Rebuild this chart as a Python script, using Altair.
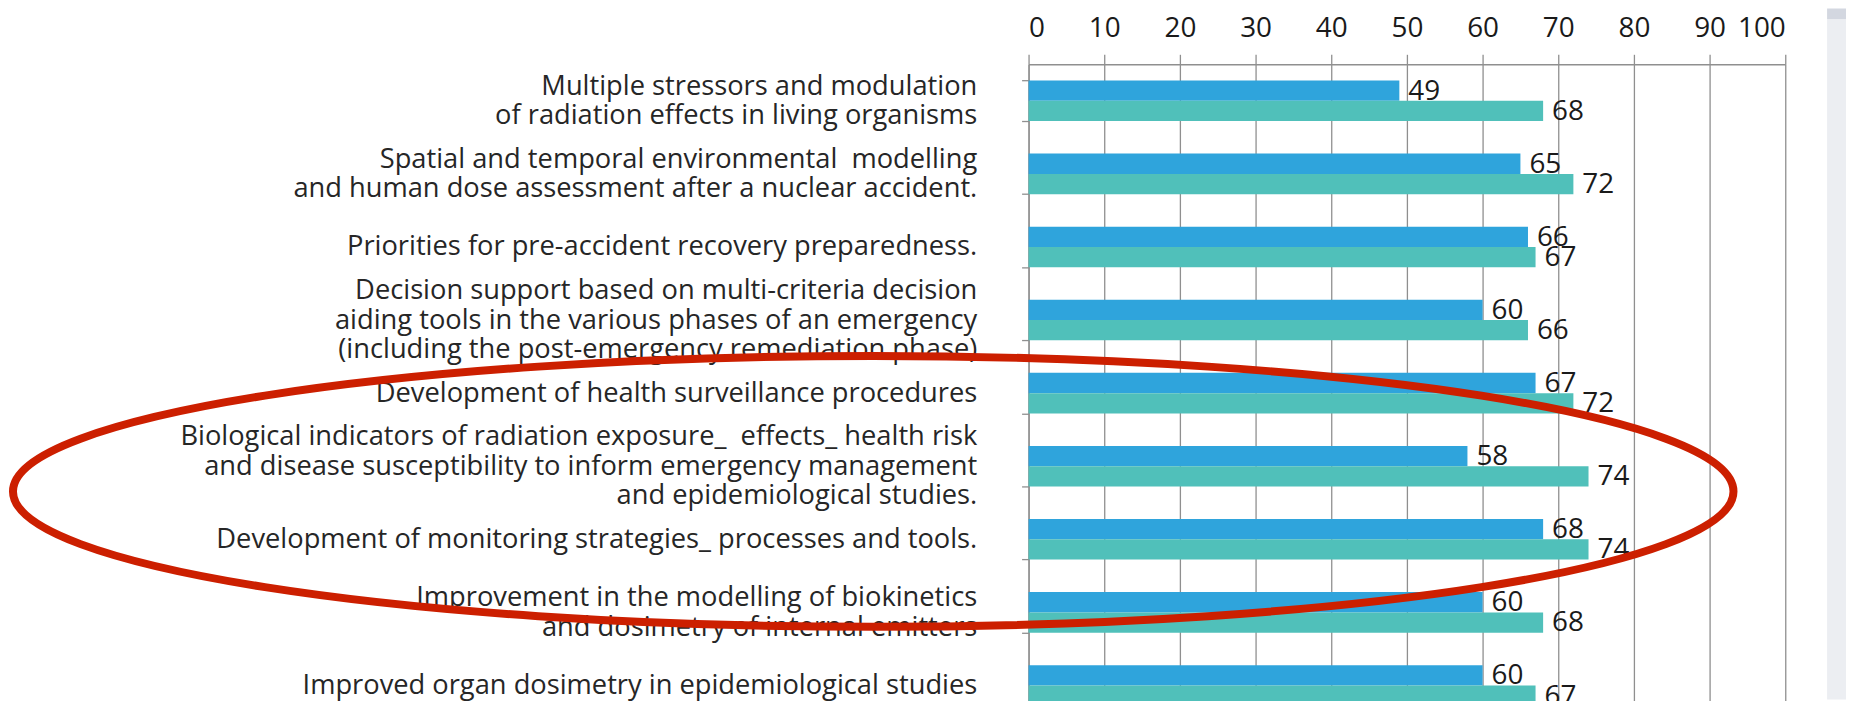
import altair as alt
import pandas as pd

# ---------------- data ----------------
categories = [
    "Multiple stressors and modulation\nof radiation effects in living organisms",
    "Spatial and temporal environmental\u00a0 modelling\nand human dose assessment after a nuclear accident.",
    "Priorities for pre-accident recovery preparedness.",
    "Decision support based on multi-criteria decision\naiding tools in the various phases of an emergency\n(including the post-emergency remediation phase)",
    "Development of health surveillance procedures",
    "Biological indicators of radiation exposure_\u00a0 effects_ health risk\nand disease susceptibility to inform emergency management\nand epidemiological studies.",
    "Development of monitoring strategies_ processes and tools.",
    "Improvement in the modelling of biokinetics\nand dosimetry of internal emitters",
    "Improved organ dosimetry in epidemiological studies",
]
series_names = ["Series 1", "Series 2"]
series1_values = [49, 65, 66, 60, 67, 58, 68, 60, 60]
series2_values = [68, 72, 67, 66, 72, 74, 74, 68, 67]
tick_values = [0, 10, 20, 30, 40, 50, 60, 70, 80, 90, 100]
series_colors = ["#2FA4DC", "#50C0BA"]

rows = []
for c, a, b in zip(categories, series1_values, series2_values):
    rows.append({"category": c, "series": series_names[0], "value": a})
    rows.append({"category": c, "series": series_names[1], "value": b})
df = pd.DataFrame(rows)

# ---------------- layout ----------------
W = 760
H = 638
STEP = 73.4
FONT = "Open Sans"
GRID = "#8f8f8f"
LH = 29.5

label_offset = {
    "condition": [
        {"test": "length(split(datum.value, '\\n')) == 2", "value": -LH / 2},
        {"test": "length(split(datum.value, '\\n')) == 3", "value": -LH},
    ],
    "value": 0,
}

y_enc = alt.Y(
    "category:N",
    sort=categories,
    title=None,
    scale=alt.Scale(range=[0, STEP * len(categories)], paddingInner=0.445, paddingOuter=0.2225),
    axis=alt.Axis(
        orient="left",
        labelExpr="split(datum.label, '\\n')",
        labelFont=FONT,
        labelFontSize=27.4,
        labelColor="#262626",
        labelLimit=2000,
        labelLineHeight=LH,
        labelPadding=45,
        labelOffset=label_offset,
        labelAlign="right",
        labelBaseline="middle",
        tickSize=7,
        tickBand="extent",
        tickColor=GRID,
        tickWidth=1.3,
        domainColor=GRID,
        domainWidth=1.3,
        grid=False,
    ),
)
y_plain = alt.Y("category:N", sort=categories)
yoff = alt.YOffset("series:N", sort=series_names)
x_enc = alt.X(
    "value:Q",
    title=None,
    scale=alt.Scale(domain=[0, 100], nice=False, zero=True),
    axis=alt.Axis(
        orient="top",
        values=tick_values,
        labelFont=FONT,
        labelFontSize=28,
        labelColor="#1a1a1a",
        labelPadding=12,
        tickSize=10,
        tickColor=GRID,
        tickWidth=1.3,
        domainColor=GRID,
        domainWidth=1.3,
        grid=True,
        gridColor=GRID,
        gridWidth=1.3,
    ),
)
color = alt.Color("series:N", scale=alt.Scale(domain=series_names, range=series_colors), legend=None)

bars = alt.Chart(df).mark_bar().encode(x=x_enc, y=y_enc, yOffset=yoff, color=color)

labels = alt.Chart(df).mark_text(
    align="left", baseline="middle", dx=9, dy=1, font=FONT, fontSize=28, color="#1a1a1a"
).encode(x="value:Q", y=y_plain, yOffset=yoff, text="value:Q")

# decorative grey strip at the right edge of the screenshot
one = pd.DataFrame({"k": [0]})
strip_top = alt.Chart(one).mark_rect(color="#d3d7e0").encode(
    x=alt.value(802), x2=alt.value(822), y=alt.value(-56), y2=alt.value(-45)
)
strip = alt.Chart(one).mark_rect(color="#eceef2").encode(
    x=alt.value(802), x2=alt.value(822), y=alt.value(-45), y2=alt.value(H)
)

# red hand-drawn ellipse annotation
rx_px = 864
ry_ratio = 136 / rx_px
k = 0.5523
ky = k * ry_ratio
path = (
    f"M -1 0 C -1 {-ky:.5f} {-k:.5f} {-ry_ratio:.5f} 0 {-ry_ratio:.5f} "
    f"C {k:.5f} {-ry_ratio:.5f} 1 {-ky:.5f} 1 0 "
    f"C 1 {ky:.5f} {k:.5f} {ry_ratio:.5f} 0 {ry_ratio:.5f} "
    f"C {-k:.5f} {ry_ratio:.5f} -1 {ky:.5f} -1 0 Z"
)
ellipse = alt.Chart(one).mark_point(
    shape=path, filled=False, color="#CC1F00", strokeWidth=8, size=(2 * rx_px) ** 2, opacity=1
).encode(x=alt.value(-156), y=alt.value(429))

chart = (
    alt.layer(strip_top, strip, bars, labels, ellipse)
    .properties(
        width=W,
        height=H,
        autosize=alt.AutoSizeParams(type="none"),
        padding={"left": 1025, "top": 55, "right": 61, "bottom": 0},
    )
    .configure_view(stroke=None)
)

chart.save("out.html", embed_options={"renderer": "svg", "actions": False})
